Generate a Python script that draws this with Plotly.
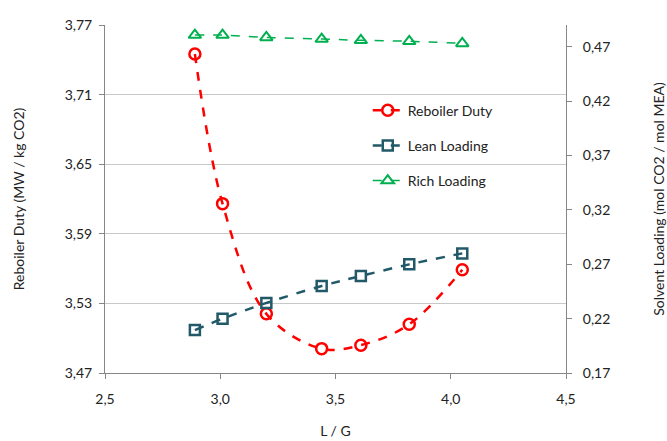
import plotly.graph_objects as go

lg = [2.89, 3.01, 3.20, 3.44, 3.61, 3.82, 4.05]
reboiler_duty = [3.745, 3.616, 3.521, 3.491, 3.494, 3.512, 3.559]
lean_loading = [0.2095, 0.2199, 0.2344, 0.2500, 0.2592, 0.2699, 0.2800]
rich_loading = [0.4807, 0.4807, 0.4786, 0.4771, 0.4759, 0.4750, 0.4731]

left_ticks = [3.47, 3.53, 3.59, 3.65, 3.71, 3.77]
right_ticks = [0.17, 0.22, 0.27, 0.32, 0.37, 0.42, 0.47]
x_ticks = [2.5, 3.0, 3.5, 4.0, 4.5]

RED = "#FF0000"
TEAL = "#215968"
GREEN = "#00B050"
FONT = "Lato"

fig = go.Figure()
fig.add_trace(go.Scatter(
    x=lg, y=reboiler_duty, name="Reboiler Duty", mode="lines+markers",
    line=dict(color=RED, width=2.5, dash="dash", shape="spline", smoothing=1.0),
    marker=dict(symbol="circle-open", size=11, color=RED, line=dict(width=2.5)),
    legendgroup="a", yaxis="y"))
fig.add_trace(go.Scatter(
    x=lg, y=lean_loading, name="Lean Loading", mode="lines+markers",
    line=dict(color=TEAL, width=2.5, dash="dash", shape="spline"),
    marker=dict(symbol="square-open", size=10, color=TEAL, line=dict(width=2.5)),
    legendgroup="b", yaxis="y2"))
fig.add_trace(go.Scatter(
    x=lg, y=rich_loading, name="Rich Loading", mode="lines+markers",
    line=dict(color=GREEN, width=1.5, dash="dash", shape="spline"),
    marker=dict(symbol="triangle-up-open", size=11, color=GREEN, line=dict(width=2)),
    legendgroup="c", yaxis="y2"))

axis_common = dict(
    showline=True, linecolor="#868686", linewidth=1,
    ticks="outside", tickcolor="#868686", ticklen=5,
    tickfont=dict(family=FONT, size=14, color="#222"),
    zeroline=False,
)

fig.update_layout(
    width=667, height=441,
    margin=dict(l=105, r=101, t=25, b=68, autoexpand=False),
    paper_bgcolor="white", plot_bgcolor="white",
    separators=", ",
    font=dict(family=FONT, size=13, color="#222"),
    xaxis=dict(range=[2.5, 4.5], tickvals=x_ticks, tickformat=".1f",
               showgrid=False, ticklabelstandoff=8,
               title=dict(text="L / G", font=dict(family=FONT, size=14), standoff=20),
               **axis_common),
    yaxis=dict(range=[3.47, 3.77], tickvals=left_ticks, tickformat=".2f",
               showgrid=True, gridcolor="#C8C8C8", gridwidth=1, ticklabelstandoff=4,
               title=dict(text="Reboiler Duty (MW / kg CO2)", font=dict(family=FONT, size=14), standoff=36),
               **axis_common),
    yaxis2=dict(range=[0.17, 0.49], tickvals=right_ticks, tickformat=".2f",
                overlaying="y", side="right", showgrid=False, ticklabelstandoff=8,
                title=dict(text="Solvent Loading (mol CO2 / mol MEA)", font=dict(family=FONT, size=14), standoff=48),
                **axis_common),
    legend=dict(x=0.57, y=0.80, xanchor="left", yanchor="top",
                bgcolor="rgba(0,0,0,0)", font=dict(family=FONT, size=14, color="#222"),
                traceorder="grouped", tracegroupgap=14, itemwidth=30),
    showlegend=True,
)

fig.write_html("out.html")
